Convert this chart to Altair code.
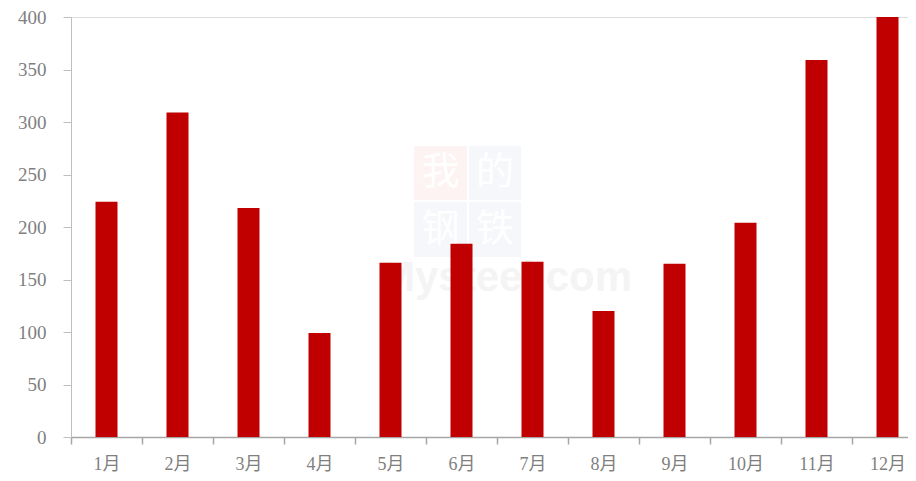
import json
import altair as alt
import pandas as pd

# ---- data ----
months = ["1月", "2月", "3月", "4月", "5月", "6月", "7月", "8月", "9月", "10月", "11月", "12月"]
values = [224, 309, 218, 99, 166, 184, 167, 120, 165, 204, 359, 400]
y_ticks = [0, 50, 100, 150, 200, 250, 300, 350, 400]

df = pd.DataFrame({"idx": list(range(1, len(months) + 1)), "month": months, "value": values})

PLOT_W = 837
PLOT_H = 420
BAND_PX = 71
x_max = 0.5 + PLOT_W / BAND_PX  # right end is cropped like the reference

x_tick_vals = [0.5 * k for k in range(1, 2 * len(months) + 1)]  # 0.5, 1.0, ... 12.0
label_expr = ("datum.value % 1 === 0 ? " + json.dumps(months, ensure_ascii=False)
              + "[datum.value - 1] : ''")

SERIF = "'Liberation Serif', 'Noto Sans CJK SC', serif"
LABEL_GRAY = "#7f7f7f"

one = pd.DataFrame({"k": [0]})

# ---- faint watermark (decorative) ----
wm_layers = []
cells = [
    ("我", 343, 396, 129, 183, "#fdf3f3"),
    ("的", 398, 450, 129, 183, "#f6f7fb"),
    ("钢", 343, 396, 185, 240, "#f6f7fb"),
    ("铁", 398, 450, 185, 240, "#f6f7fb"),
]
for ch, x1, x2, y1, y2, col in cells:
    wm_layers.append(
        alt.Chart(one).mark_rect(color=col).encode(
            x=alt.value(x1), x2=alt.value(x2), y=alt.value(y1), y2=alt.value(y2)
        )
    )
    wm_layers.append(
        alt.Chart(one).mark_text(color="white", fontSize=38, font=SERIF,
                                 align="center", baseline="middle").encode(
            x=alt.value((x1 + x2) / 2), y=alt.value((y1 + y2) / 2), text=alt.value(ch)
        )
    )
wm_layers.append(
    alt.Chart(one).mark_text(color="#f4f4f4", fontSize=42, fontWeight="bold",
                             font="'Liberation Sans', Arial, sans-serif",
                             align="left", baseline="alphabetic").encode(
        x=alt.value(309), y=alt.value(274), text=alt.value("Mysteel.com")
    )
)

bars = alt.Chart(df).mark_bar(size=22, color="#C00000").encode(
    x=alt.X(
        "idx:Q",
        scale=alt.Scale(domain=[0.5, x_max], nice=False, zero=False, padding=0),
        axis=alt.Axis(
            values=x_tick_vals,
            labelExpr=label_expr,
            title=None,
            grid=False,
            tickSize=7,
            tickWidth=1.5,
            tickColor={"condition": {"test": "datum.value % 1 === 0", "value": "transparent"},
                       "value": "#a6a6a6"},
            domainColor="#a6a6a6",
            domainWidth=1.5,
            labelPadding=11,
            labelFont=SERIF,
            labelFontSize=18,
            labelColor=LABEL_GRAY,
            labelOverlap=False,
            labelFlush=False,
        ),
    ),
    y=alt.Y(
        "value:Q",
        scale=alt.Scale(domain=[0, 400], nice=False),
        axis=alt.Axis(
            values=y_ticks,
            title=None,
            grid=False,
            tickSize=8,
            tickColor="#bfbfbf",
            domainColor="#bfbfbf",
            labelPadding=17,
            labelFont=SERIF,
            labelFontSize=19,
            labelColor=LABEL_GRAY,
            labelFlush=False,
        ),
    ),
    tooltip=["month:N", "value:Q"],
)

chart = alt.layer(*wm_layers, bars).properties(
    width=PLOT_W,
    height=PLOT_H,
    padding={"left": 9, "top": 0, "right": 0, "bottom": 0},
).configure_view(stroke=None).configure(background="white")

chart.save("out.html", embed_options={"renderer": "svg", "actions": False})
